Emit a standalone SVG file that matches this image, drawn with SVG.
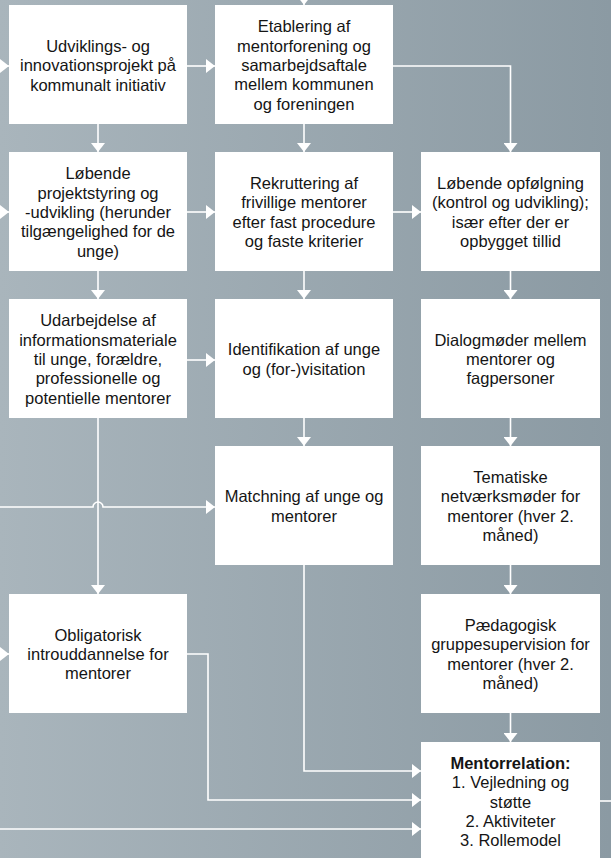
<svg xmlns="http://www.w3.org/2000/svg" width="611" height="858" viewBox="0 0 611 858">
<defs>
<linearGradient id="bg" x1="0" y1="0" x2="1" y2="0">
<stop offset="0" stop-color="#a9b5bc"/>
<stop offset="1" stop-color="#8b9aa3"/>
</linearGradient>
<marker id="ah" markerUnits="userSpaceOnUse" markerWidth="9" markerHeight="14" refX="9" refY="7" orient="auto" viewBox="0 0 9 14">
<path d="M0,0 L9,7 L0,14 z" fill="#ffffff"/>
</marker>
</defs>
<style>
.box{fill:#ffffff}
.t{font-family:"Liberation Sans",Arial,sans-serif;font-size:16.5px;fill:#151515;text-anchor:middle}
.b{font-weight:bold}
.c{fill:none;stroke:#ffffff;stroke-width:1.6;marker-end:url(#ah)}
.cn{fill:none;stroke:#ffffff;stroke-width:1.6}
</style>
<rect x="0" y="0" width="611" height="858" fill="url(#bg)"/>

<g id="connectors">
<path class="c" d="M304,-12 V5"/>
<path class="c" d="M0,66 H9"/>
<path class="c" d="M0,212 H9"/>
<path class="c" d="M0,654 H9"/>
<path class="c" d="M187,66 H215"/>
<path class="c" d="M98,124 V152"/>
<path class="c" d="M304,124 V152"/>
<path class="c" d="M393,66 H510.5 V152"/>
<path class="c" d="M187,212 H215"/>
<path class="c" d="M393,212 H421"/>
<path class="c" d="M98,271 V299"/>
<path class="c" d="M304,271 V299"/>
<path class="c" d="M510.5,271 V299"/>
<path class="c" d="M187,360 H215"/>
<path class="c" d="M98,418 V594"/>
<path class="c" d="M304,418 V446"/>
<path class="c" d="M510.5,418 V446"/>
<path class="c" d="M0,507 H93 A5,5 0 0 1 103,507 H215"/>
<path class="c" d="M510.5,565 V594"/>
<path class="c" d="M510.5,713 V742"/>
<path class="c" d="M304,565 V771 H421"/>
<path class="c" d="M187,654 H208 V800 H421"/>
<path class="c" d="M0,829 H421"/>
<path class="cn" d="M600,801 H611"/>
</g>

<g id="n1">
<rect class="box" x="9" y="5" width="178" height="119"/>
<text class="t" x="98"><tspan x="98" y="52">Udviklings- og</tspan><tspan x="98" y="71.3">innovationsprojekt på</tspan><tspan x="98" y="90.6">kommunalt initiativ</tspan></text>
</g>
<g id="n2">
<rect class="box" x="215" y="5" width="178" height="119"/>
<text class="t" x="304"><tspan x="304" y="32.4">Etablering af</tspan><tspan x="304" y="51.7">mentorforening og</tspan><tspan x="304" y="71">samarbejdsaftale</tspan><tspan x="304" y="90.3">mellem kommunen</tspan><tspan x="304" y="109.6">og foreningen</tspan></text>
</g>
<g id="n3">
<rect class="box" x="9" y="152" width="178" height="119"/>
<text class="t" x="98"><tspan x="98" y="179.4">Løbende</tspan><tspan x="98" y="198.7">projektstyring og</tspan><tspan x="98" y="218">-udvikling (herunder</tspan><tspan x="98" y="237.3">tilgængelighed for de</tspan><tspan x="98" y="256.6">unge)</tspan></text>
</g>
<g id="n4">
<rect class="box" x="215" y="152" width="178" height="119"/>
<text class="t" x="304"><tspan x="304" y="189">Rekruttering af</tspan><tspan x="304" y="208.3">frivillige mentorer</tspan><tspan x="304" y="227.6">efter fast procedure</tspan><tspan x="304" y="246.9">og faste kriterier</tspan></text>
</g>
<g id="n5">
<rect class="box" x="421" y="152" width="179" height="119"/>
<text class="t" x="510.5"><tspan x="510.5" y="189">Løbende opfølgning</tspan><tspan x="510.5" y="208.3">(kontrol og udvikling);</tspan><tspan x="510.5" y="227.6">især efter der er</tspan><tspan x="510.5" y="246.9">opbygget tillid</tspan></text>
</g>
<g id="n6">
<rect class="box" x="9" y="299" width="178" height="119"/>
<text class="t" x="98"><tspan x="98" y="326.4">Udarbejdelse af</tspan><tspan x="98" y="345.7">informationsmateriale</tspan><tspan x="98" y="365">til unge, forældre,</tspan><tspan x="98" y="384.3">professionelle og</tspan><tspan x="98" y="403.6">potentielle mentorer</tspan></text>
</g>
<g id="n7">
<rect class="box" x="215" y="299" width="178" height="119"/>
<text class="t" x="304"><tspan x="304" y="355.4">Identifikation af unge</tspan><tspan x="304" y="374.7">og (for-)visitation</tspan></text>
</g>
<g id="n8">
<rect class="box" x="421" y="299" width="179" height="119"/>
<text class="t" x="510.5"><tspan x="510.5" y="345.7">Dialogmøder mellem</tspan><tspan x="510.5" y="365">mentorer og</tspan><tspan x="510.5" y="384.3">fagpersoner</tspan></text>
</g>
<g id="n9">
<rect class="box" x="215" y="446" width="178" height="119"/>
<text class="t" x="304"><tspan x="304" y="502.4">Matchning af unge og</tspan><tspan x="304" y="521.7">mentorer</tspan></text>
</g>
<g id="n10">
<rect class="box" x="421" y="446" width="179" height="119"/>
<text class="t" x="510.5"><tspan x="510.5" y="483">Tematiske</tspan><tspan x="510.5" y="502.3">netværksmøder for</tspan><tspan x="510.5" y="521.6">mentorer (hver 2.</tspan><tspan x="510.5" y="540.9">måned)</tspan></text>
</g>
<g id="n11">
<rect class="box" x="9" y="594" width="178" height="119"/>
<text class="t" x="98"><tspan x="98" y="640.7">Obligatorisk</tspan><tspan x="98" y="660">introuddannelse for</tspan><tspan x="98" y="679.3">mentorer</tspan></text>
</g>
<g id="n12">
<rect class="box" x="421" y="594" width="179" height="119"/>
<text class="t" x="510.5"><tspan x="510.5" y="631">Pædagogisk</tspan><tspan x="510.5" y="650.3">gruppesupervision for</tspan><tspan x="510.5" y="669.6">mentorer (hver 2.</tspan><tspan x="510.5" y="688.9">måned)</tspan></text>
</g>
<g id="n13">
<rect class="box" x="421" y="742" width="179" height="119"/>
<text class="t" x="510.5"><tspan class="b" x="510.5" y="768.9">Mentorrelation:</tspan><tspan x="510.5" y="788.2">1. Vejledning og</tspan><tspan x="510.5" y="807.5">støtte</tspan><tspan x="510.5" y="826.8">2. Aktiviteter</tspan><tspan x="510.5" y="846.1">3. Rollemodel</tspan></text>
</g>
</svg>
